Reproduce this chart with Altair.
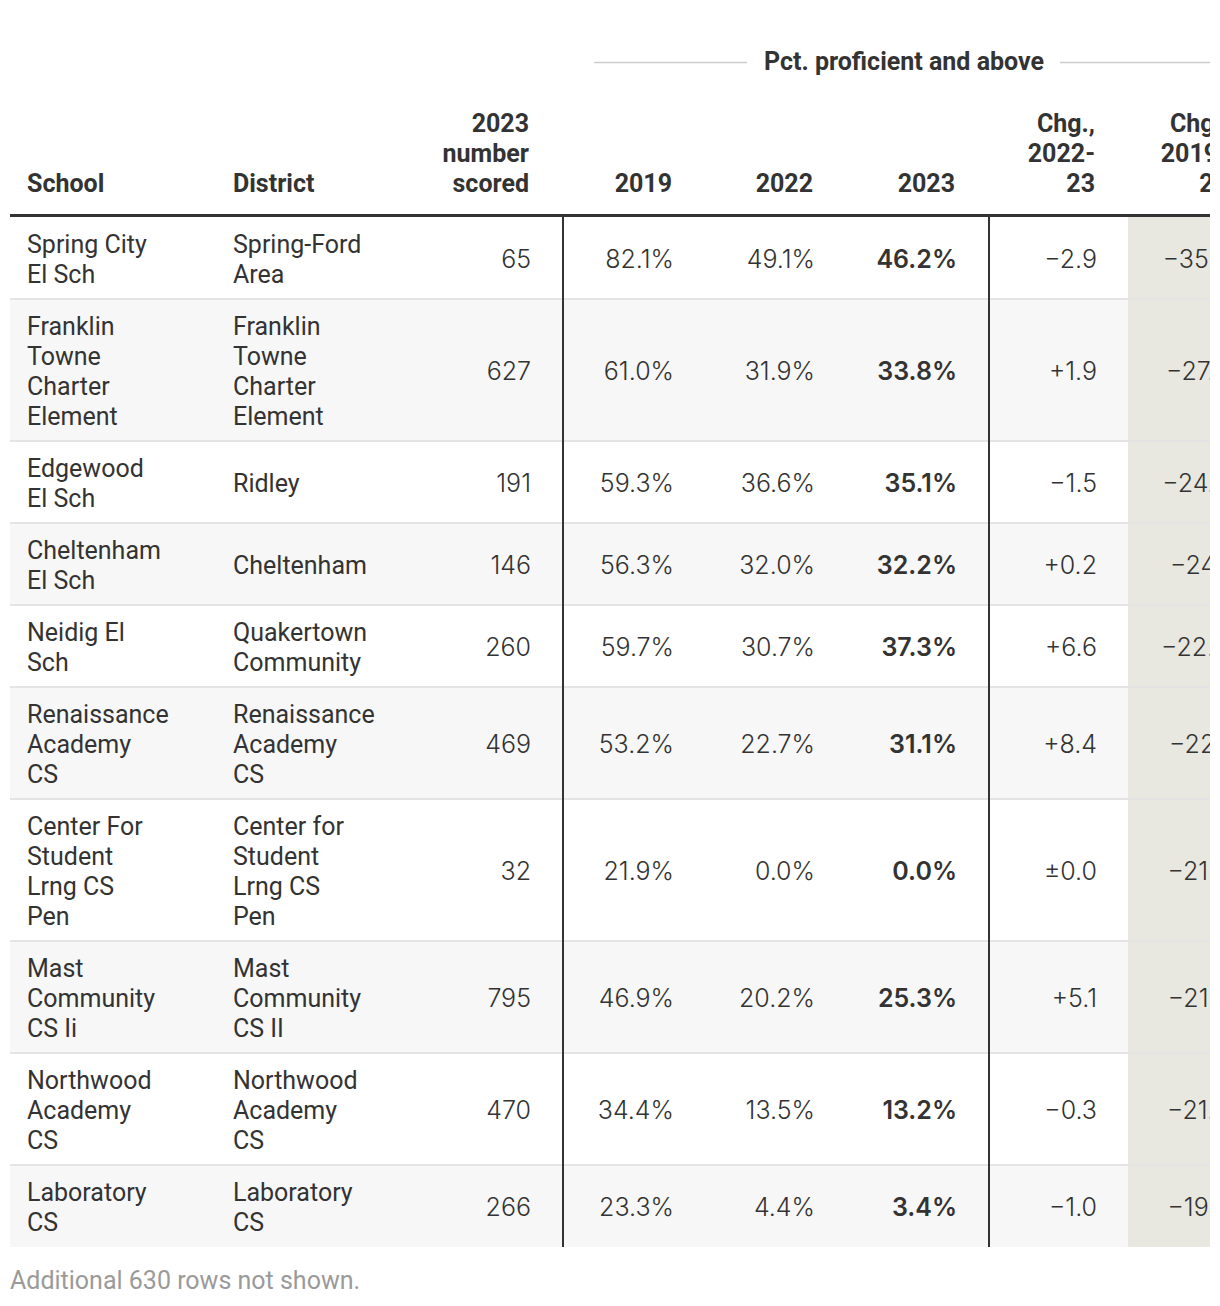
import altair as alt
import pandas as pd

# ---------------- data ----------------
schools = [
    "Spring City\nEl Sch",
    "Franklin\nTowne\nCharter\nElement",
    "Edgewood\nEl Sch",
    "Cheltenham\nEl Sch",
    "Neidig El\nSch",
    "Renaissance\nAcademy\nCS",
    "Center For\nStudent\nLrng CS\nPen",
    "Mast\nCommunity\nCS Ii",
    "Northwood\nAcademy\nCS",
    "Laboratory\nCS",
]
districts = [
    "Spring-Ford\nArea",
    "Franklin\nTowne\nCharter\nElement",
    "Ridley",
    "Cheltenham",
    "Quakertown\nCommunity",
    "Renaissance\nAcademy\nCS",
    "Center for\nStudent\nLrng CS\nPen",
    "Mast\nCommunity\nCS II",
    "Northwood\nAcademy\nCS",
    "Laboratory\nCS",
]
n_scored = [65, 627, 191, 146, 260, 469, 32, 795, 470, 266]
pct_2019 = [82.1, 61.0, 59.3, 56.3, 59.7, 53.2, 21.9, 46.9, 34.4, 23.3]
pct_2022 = [49.1, 31.9, 36.6, 32.0, 30.7, 22.7, 0.0, 20.2, 13.5, 4.4]
pct_2023 = [46.2, 33.8, 35.1, 32.2, 37.3, 31.1, 0.0, 25.3, 13.2, 3.4]
chg_22_23 = [-2.9, 1.9, -1.5, 0.2, 6.6, 8.4, 0.0, 5.1, -0.3, -1.0]
chg_19_23 = [-35.9, -27.2, -24.2, -24.1, -22.4, -22.1, -21.9, -21.6, -21.2, -19.9]

headers = ["School", "District", "2023\nnumber\nscored", "2019", "2022", "2023",
           "Chg.,\n2022-\n23", "Chg.,\n2019-\n23"]
group_label = "Pct. proficient and above"
footnote = "Additional 630 rows not shown."

# ---------------- layout (page pixels) ----------------
W, H = 1202, 1290
OX, OY = 8, 8
FONT = "Roboto"
NUM_FONT = "Inter"
FS = 25
NUM_FS = 25
NUM_NUDGE = 2
LINE_H = 30
PAD = 11
TXT = "#333333"

TABLE_L, TABLE_R = 10, 1212
COL_X = [27, 233, 529, 672, 813, 955, 1095, 1228]
COL_ALIGN = ["left", "left", "right", "right", "right", "right", "right", "right"]
HEAD_BASE = 192
RULE_Y = 215.5
ROW_TOP0 = 217
VLINES = [563, 989]
SHADE_L = 1128
GROUP_X, GROUP_Y = 904, 70
GROUP_LINE_Y = 62.5
GROUP_LINES = [(594, 747), (1060, 1212)]
FOOT_X, FOOT_Y = 10, 1289
BASE_OFF = 10


def px(v):
    return v - OX


def py(v):
    return v - OY


def fmt_pct(v):
    return f"{v:.1f}%"


def fmt_chg(v):
    if abs(v) < 0.05:
        return "\u00b10.0"
    return ("+" if v > 0 else "\u2212") + f"{abs(v):.1f}"


# rows geometry
n_lines = [max(s.count("\n"), d.count("\n")) + 1 for s, d in zip(schools, districts)]
row_tops, row_bots = [], []
t = ROW_TOP0
for n in n_lines:
    row_tops.append(t)
    t += 2 * PAD + LINE_H * n
    row_bots.append(t)
TABLE_B = row_bots[-1]

xs = alt.Scale(domain=[0, W], nice=False, zero=False)
ys = alt.Scale(domain=[0, H], nice=False, zero=False, reverse=True)


def X(f):
    return alt.X(f, scale=xs, axis=None)


def Y(f):
    return alt.Y(f, scale=ys, axis=None)


# backgrounds
bg = pd.DataFrame({
    "x": px(TABLE_L), "x2": px(TABLE_R),
    "y": [py(a) for a in row_tops], "y2": [py(b) for b in row_bots],
    "fill": ["#ffffff" if i % 2 == 0 else "#f7f7f7" for i in range(len(row_tops))],
})
bg_layer = alt.Chart(bg).mark_rect(clip=True).encode(
    x=X("x:Q"), x2="x2", y=Y("y:Q"), y2="y2", color=alt.Color("fill:N", scale=None))

shade = pd.DataFrame({"x": [px(SHADE_L)], "x2": [px(TABLE_R)], "y": [py(ROW_TOP0)], "y2": [py(TABLE_B)]})
shade_layer = alt.Chart(shade).mark_rect(clip=True, color="#e9e8e0").encode(
    x=X("x:Q"), x2="x2", y=Y("y:Q"), y2="y2")

seps = pd.DataFrame({"x": px(TABLE_L), "x2": px(TABLE_R), "y": [py(a) for a in row_tops[1:]]})
sep_layer = alt.Chart(seps).mark_rule(clip=True, color="#e4e4e4", strokeWidth=2).encode(
    x=X("x:Q"), x2="x2", y=Y("y:Q"))

hrule = pd.DataFrame({"x": [px(TABLE_L)], "x2": [px(TABLE_R)], "y": [py(RULE_Y)]})
hrule_layer = alt.Chart(hrule).mark_rule(clip=True, color="#333333", strokeWidth=3).encode(
    x=X("x:Q"), x2="x2", y=Y("y:Q"))

vl = pd.DataFrame({"x": [px(v) for v in VLINES], "y": py(ROW_TOP0 - 1), "y2": py(TABLE_B)})
vl_layer = alt.Chart(vl).mark_rule(color="#333333", strokeWidth=2).encode(
    x=X("x:Q"), y=Y("y:Q"), y2="y2")

gl = pd.DataFrame({"x": [px(a) for a, b in GROUP_LINES], "x2": [px(b) for a, b in GROUP_LINES],
                   "y": py(GROUP_LINE_Y)})
gl_layer = alt.Chart(gl).mark_rule(clip=True, color="#cccccc", strokeWidth=1.5).encode(
    x=X("x:Q"), x2="x2", y=Y("y:Q"))

# text rows
left_rows, right_rows, bold_rows = [], [], []
for i in range(len(schools)):
    center = (row_tops[i] + row_bots[i]) / 2
    for ci, val in enumerate([schools[i], districts[i]]):
        lines = val.split("\n")
        k = len(lines)
        for j, ln in enumerate(lines):
            left_rows.append({"x": px(COL_X[ci]),
                              "y": py(center + (j - (k - 1) / 2) * LINE_H + BASE_OFF),
                              "text": ln})
    vals = [str(n_scored[i]), fmt_pct(pct_2019[i]), fmt_pct(pct_2022[i]), None,
            fmt_chg(chg_22_23[i]), fmt_chg(chg_19_23[i])]
    for ci, v in zip([2, 3, 4, 5, 6, 7], vals):
        if v is None:
            continue
        right_rows.append({"x": px(COL_X[ci] + NUM_NUDGE), "y": py(center + BASE_OFF), "text": v})
    bold_rows.append({"x": px(COL_X[5] + NUM_NUDGE), "y": py(center + BASE_OFF),
                      "text": fmt_pct(pct_2023[i])})

head_left, head_right = [], []
for ci, h in enumerate(headers):
    lines = h.split("\n")
    k = len(lines)
    for j, ln in enumerate(lines):
        rec = {"x": px(COL_X[ci]), "y": py(HEAD_BASE - (k - 1 - j) * LINE_H), "text": ln}
        (head_left if COL_ALIGN[ci] == "left" else head_right).append(rec)


def text_layer(records, align, weight, color=TXT, size=FS, font=FONT):
    return alt.Chart(pd.DataFrame(records)).mark_text(
        align=align, baseline="alphabetic", font=font, fontSize=size,
        fontWeight=weight, color=color, clip=True
    ).encode(x=X("x:Q"), y=Y("y:Q"), text="text:N")


layers = [
    bg_layer, shade_layer, sep_layer, hrule_layer, vl_layer, gl_layer,
    text_layer(left_rows, "left", "normal"),
    text_layer(right_rows, "right", 300, size=NUM_FS, font=NUM_FONT),
    text_layer(bold_rows, "right", 600, size=NUM_FS, font=NUM_FONT),
    text_layer(head_left, "left", "bold"),
    text_layer(head_right, "right", "bold"),
    text_layer([{"x": px(GROUP_X), "y": py(GROUP_Y), "text": group_label}], "center", "bold"),
    text_layer([{"x": px(FOOT_X), "y": py(FOOT_Y), "text": footnote}], "left", "normal", color="#9a9a9a"),
]

chart = alt.layer(*layers).properties(width=W, height=H, padding=0).configure_view(stroke=None)

chart.save("out.html", embed_options={"renderer": "svg", "actions": False})
